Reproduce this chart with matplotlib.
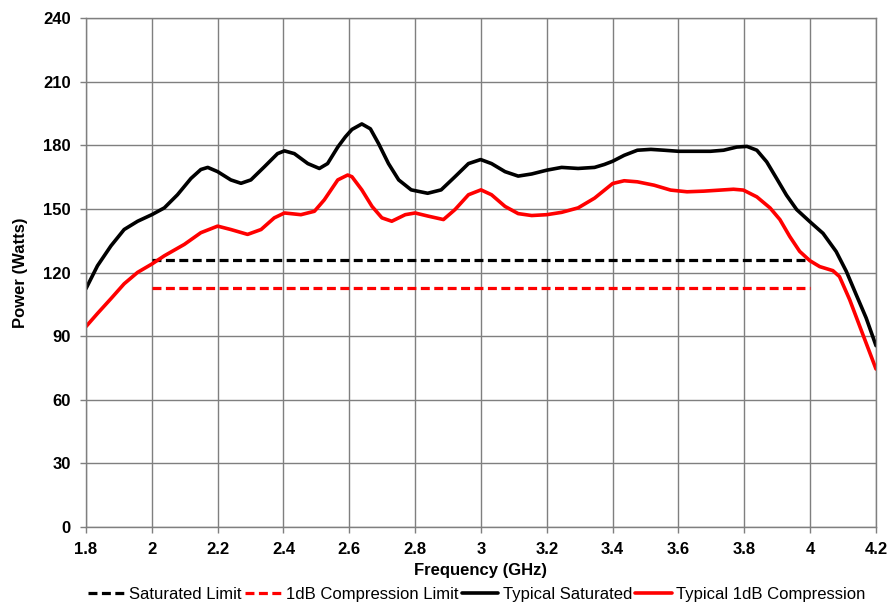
import matplotlib
matplotlib.use("Agg")
import matplotlib.pyplot as plt
import numpy as np

plt.rcParams['font.family'] = ['Liberation Sans', 'DejaVu Sans']

# Typical Saturated (black)
sat_f = [1.800, 1.835, 1.876, 1.916, 1.957, 2.000, 2.038, 2.078, 2.119, 2.149,
         2.170, 2.200, 2.240, 2.271, 2.301, 2.342, 2.382, 2.403, 2.433, 2.474,
         2.509, 2.534, 2.565, 2.588, 2.608, 2.638, 2.664, 2.689, 2.719, 2.750,
         2.788, 2.838, 2.879, 2.921, 2.962, 2.999, 3.032, 3.073, 3.113, 3.154,
         3.200, 3.245, 3.295, 3.345, 3.375, 3.400, 3.435, 3.475, 3.516, 3.556,
         3.600, 3.645, 3.697, 3.737, 3.777, 3.808, 3.838, 3.868, 3.898, 3.928,
         3.959, 3.999, 4.039, 4.079, 4.110, 4.140, 4.170, 4.200]
sat_p = [112.4, 123.2, 132.6, 140.3, 144.2, 147.3, 150.5, 156.7, 164.4, 168.6,
         169.6, 167.6, 163.7, 162.1, 163.7, 169.9, 176.1, 177.4, 176.1, 171.4,
         169.1, 171.4, 179.2, 184.0, 187.5, 190.1, 187.8, 180.8, 171.4, 163.7,
         159.0, 157.4, 159.0, 165.2, 171.4, 173.3, 171.4, 167.6, 165.5, 166.5,
         168.3, 169.6, 169.1, 169.6, 171.0, 172.5, 175.3, 177.7, 178.1, 177.7,
         177.2, 177.2, 177.2, 177.7, 179.2, 179.5, 177.7, 172.2, 164.4, 156.5,
         149.7, 144.0, 138.5, 129.9, 120.5, 109.5, 98.6, 85.5]

# Typical 1dB Compression (red)
cmp_f = [1.800, 1.835, 1.876, 1.916, 1.957, 2.000, 2.038, 2.099, 2.149, 2.200,
         2.240, 2.291, 2.332, 2.372, 2.403, 2.453, 2.494, 2.524, 2.565, 2.595,
         2.608, 2.638, 2.669, 2.699, 2.729, 2.770, 2.800, 2.840, 2.886, 2.921,
         2.962, 3.000, 3.032, 3.073, 3.113, 3.154, 3.200, 3.245, 3.295, 3.345,
         3.400, 3.435, 3.475, 3.526, 3.576, 3.626, 3.677, 3.727, 3.767, 3.797,
         3.838, 3.878, 3.908, 3.938, 3.968, 3.999, 4.029, 4.069, 4.089, 4.120,
         4.160, 4.200]
cmp_p = [94.5, 100.7, 107.7, 114.7, 120.1, 124.0, 127.9, 133.3, 138.8, 141.9,
         140.3, 138.0, 140.3, 145.8, 148.1, 147.3, 148.9, 154.3, 163.7, 166.0,
         165.2, 159.0, 151.2, 145.8, 144.2, 147.3, 148.1, 146.6, 145.0, 149.7,
         156.7, 159.0, 156.7, 151.2, 147.8, 146.9, 147.3, 148.4, 150.5, 155.1,
         162.0, 163.3, 162.8, 161.2, 158.9, 158.1, 158.4, 158.9, 159.3, 158.9,
         155.7, 150.5, 145.0, 137.0, 130.0, 125.6, 122.8, 120.9, 118.1, 107.2,
         90.8, 74.5]

# Limits
lim_f = [2.0, 4.0]
sat_limit = [126, 126]
cmp_limit = [112.5, 112.5]

x_ticks = [1.8, 2, 2.2, 2.4, 2.6, 2.8, 3, 3.2, 3.4, 3.6, 3.8, 4, 4.2]
x_labels = ['1.8', '2', '2.2', '2.4', '2.6', '2.8', '3', '3.2', '3.4', '3.6', '3.8', '4', '4.2']
y_ticks = np.arange(0, 241, 30)

fig = plt.figure(figsize=(8.88, 6.05), dpi=100)
ax = fig.add_axes([0.0968, 0.129, 0.8897, 0.841])

dash = (0, (2.8, 1.4))
ax.plot(lim_f, sat_limit, color='black', lw=2.3, ls=dash, label='Saturated Limit')
ax.plot(lim_f, cmp_limit, color='#ff0000', lw=2.3, ls=dash, label='1dB Compression Limit')
ax.plot(sat_f, sat_p, color='black', lw=2.6, label='Typical Saturated',
        solid_joinstyle='round', solid_capstyle='round')
ax.plot(cmp_f, cmp_p, color='#ff0000', lw=2.6, label='Typical 1dB Compression',
        solid_joinstyle='round', solid_capstyle='round')

ax.set_xlim(1.8, 4.2)
ax.set_ylim(0, 240)
ax.set_xticks(x_ticks)
ax.set_xticklabels(x_labels)
ax.set_yticks(y_ticks)
ax.grid(True, color='#7f7f7f', lw=1.0)
ax.set_axisbelow(True)
for s in ax.spines.values():
    s.set_color('#7f7f7f')
    s.set_linewidth(1.0)
ax.tick_params(axis='both', length=4, width=1.0, color='#7f7f7f',
               labelsize=12, pad=7)
for lab in ax.get_xticklabels() + ax.get_yticklabels():
    lab.set_fontweight('bold')

ax.set_xlabel('Frequency (GHz)', fontsize=12, fontweight='bold', labelpad=4)
ax.set_ylabel('Power (Watts)', fontsize=12, fontweight='bold', labelpad=11)

ax.legend(loc='upper center', bbox_to_anchor=(0.495, -0.111), ncol=4, frameon=False,
          fontsize=12, handlelength=2.2, handletextpad=0.25, columnspacing=0.2,
          borderaxespad=0, borderpad=0.2)

fig.savefig('out.png', dpi=100)
